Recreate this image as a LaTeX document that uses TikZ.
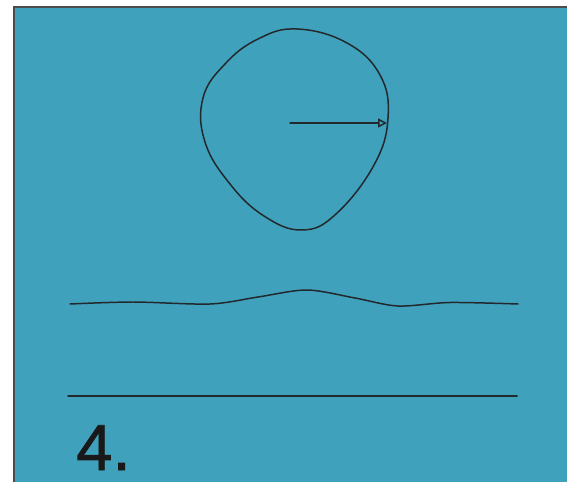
\documentclass[tikz,border=0pt]{standalone}
\usepackage{fontspec}
\setmainfont{Liberation Sans}
\usetikzlibrary{arrows.meta}
\definecolor{fondo}{RGB}{63,161,188}
\definecolor{trazo}{RGB}{35,40,45}
\begin{document}
\begin{tikzpicture}[
  x=0.02cm, y=-0.02cm,
  linea/.style={draw=trazo, line width=0.85pt, line join=round, line cap=round},
  flecha/.style={linea, -{Triangle[open, length=5pt, width=5pt]}}
]

  % Marco y fondo
  \useasboundingbox (0,0) rectangle (567,482);
  \fill[white] (0,0) rectangle (567,482);
  \fill[fondo] (14,7) rectangle (567,482);
  \draw[gray!60!black, line width=1.2pt] (14,482) -- (14,7) -- (567,7);

  % Contorno cerrado
  \draw[linea] plot[smooth cycle, tension=0.7] coordinates {
    (297,29) (347,43) (380,75) (388,118) (374,165) (336,214)
    (302,230) (264,216) (230,184) (205,142) (203,98) (225,64) (258,39)};

  % Radio
  \coordinate (centro) at (290,123);
  \coordinate (borde) at (387,123);
  \draw[flecha] (centro) -- (borde);

  % Curva ondulada
  \coordinate (o1) at (70,304);
  \coordinate (o2) at (518,304);
  \draw[linea] plot[smooth, tension=0.5] coordinates {
    (o1) (133,302) (210,304) (258,297) (307,290) (355,298) (398,306)
    (450,302.5) (o2)};

  % Recta
  \coordinate (r1) at (68,396);
  \coordinate (r2) at (517,396);
  \draw[linea] (r1) -- (r2);

  % Numero
  \node[anchor=base west, inner sep=0pt, text=black!90] (num) at (76,470)
    {\fontsize{37}{37}\selectfont\addfontfeature{FakeBold=1.2}4.};

\end{tikzpicture}
\end{document}
